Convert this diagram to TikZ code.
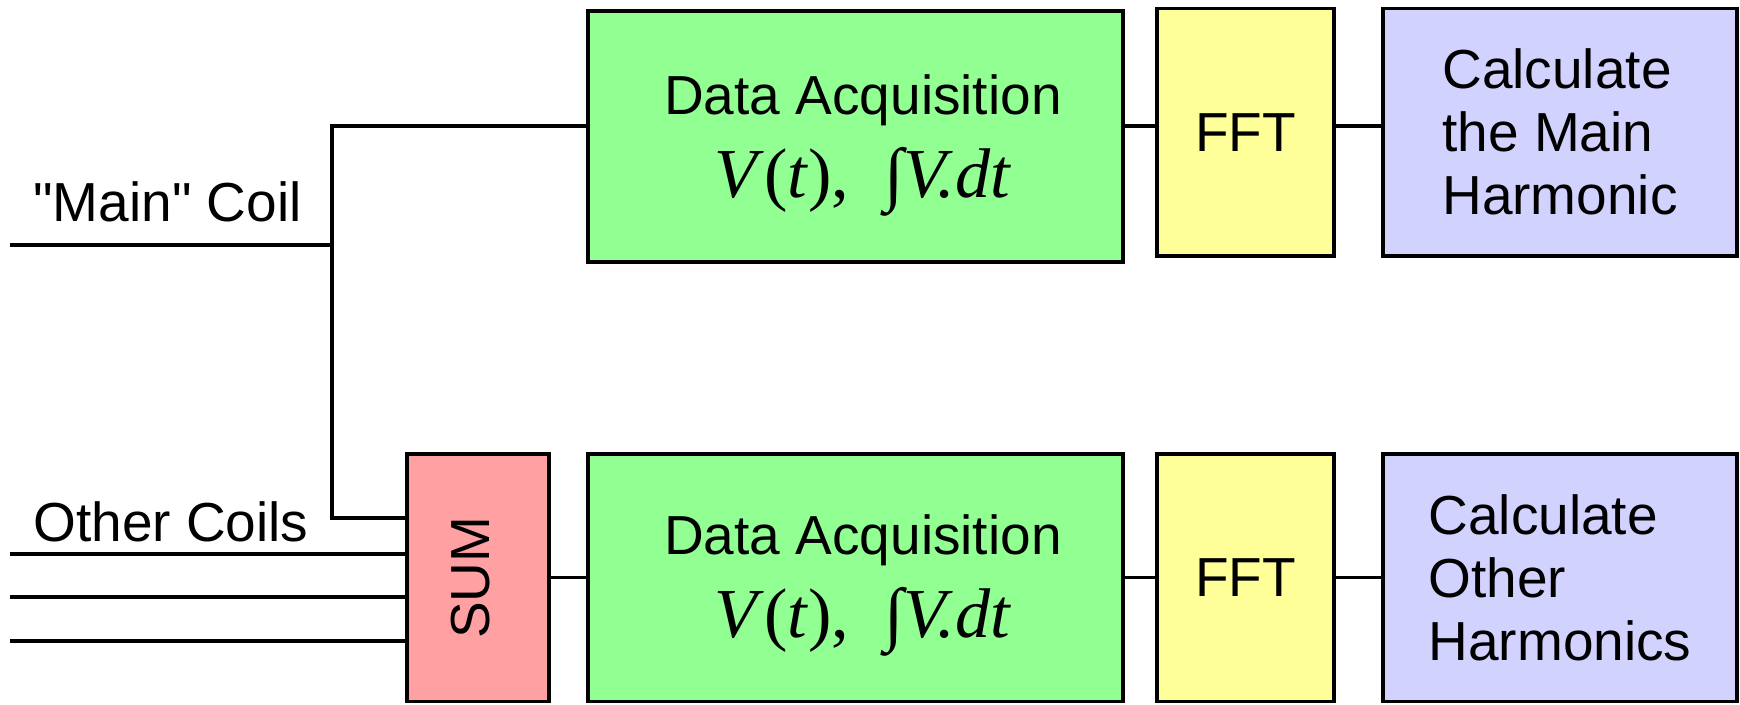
\documentclass[tikz,border=0pt]{standalone}
\usepackage{fontspec}
\setmainfont{Liberation Sans}
\newfontfamily\plainsans{Liberation Sans}
\newfontfamily\serifit{Liberation Serif}
\usepackage{graphicx}
\usetikzlibrary{positioning}
\definecolor{acqgreen}{RGB}{146,255,146}
\definecolor{fftyellow}{RGB}{255,255,153}
\definecolor{calcblue}{RGB}{210,210,255}
\definecolor{sumred}{RGB}{255,160,163}
\newcommand{\acqformula}{{\serifit\fontsize{40}{47.2}\selectfont
  \textit{V}(\textit{t}),\ \ ∫\textit{V.dt}}}

\begin{document}
\begin{tikzpicture}[
  every node/.style={font=\fontsize{31.3}{35.9}\selectfont},
  block/.style={draw=black, line width=1.8pt, minimum height=4.95cm, inner sep=0pt},
  acqbox/.style={block, fill=acqgreen, minimum width=10.7cm, align=center,
               font=\fontsize{31.3}{47.2}\selectfont},
  fftbox/.style={block, fill=fftyellow, minimum width=3.54cm},
  calcbox/.style={block, fill=calcblue, minimum width=7.08cm, align=left},
  sumbox/.style={block, fill=sumred, minimum width=2.84cm},
  coillabel/.style={anchor=base west, inner sep=0pt},
  wire/.style={line width=1.8pt}
]
\useasboundingbox (0,0) rectangle (34.8,14.08);

% main coil path
\node[acqbox, minimum height=5.02cm] (daa) at (17.11, 11.35)
  {\hspace*{0.3cm}\rule{0pt}{33pt}Data Acquisition\\\hspace*{0.3cm}\acqformula};
\node[fftbox] (ffta) at (24.91, 11.435) {FFT};
\node[calcbox] (calca) at (31.2, 11.435)
  {Calculate\\the Main\\Harmonic};

% other coils path
\node[sumbox] (sumb) at (9.56, 2.525)
  {\rotatebox{90}{SUM\rule[-0.32cm]{0pt}{0pt}}};
\node[acqbox] (dab) at (17.11, 2.525)
  {\hspace*{0.3cm}\rule{0pt}{31pt}Data Acquisition\\\hspace*{0.3cm}\acqformula};
\node[fftbox] (fftb) at (24.91, 2.525) {FFT};
\node[calcbox] (calcb) at (31.2, 2.525)
  {Calculate\\Other\\Harmonics};

\node[coillabel] (mainlbl) at (0.66, 9.646) {\plainsans "Main" Coil};
\node[coillabel] (otherlbl) at (0.66, 3.246) {Other Coils};

\coordinate (toprow) at (0, 11.56);
\coordinate (sumin) at (0, 3.72);
\coordinate (mcin) at (0.2, 9.18);
\coordinate (split) at (6.64, 9.18);
\coordinate (oc1) at (0.2, 3.0);
\coordinate (oc2) at (0.2, 2.14);
\coordinate (oc3) at (0.2, 1.26);

\draw[wire] (mcin) -- (split);
\draw[wire] (daa.west |- toprow) -| (split) |- (sumb.west |- sumin);
\foreach \c in {oc1, oc2, oc3}
  \draw[wire] (\c) -- (sumb.west |- \c);

\draw[wire] (daa.east |- toprow) -- (ffta.west |- toprow);
\draw[wire] (ffta.east |- toprow) -- (calca.west |- toprow);
\draw[wire] (sumb) -- (dab);
\draw[wire] (dab) -- (fftb);
\draw[wire] (fftb) -- (calcb);

\end{tikzpicture}
\end{document}
